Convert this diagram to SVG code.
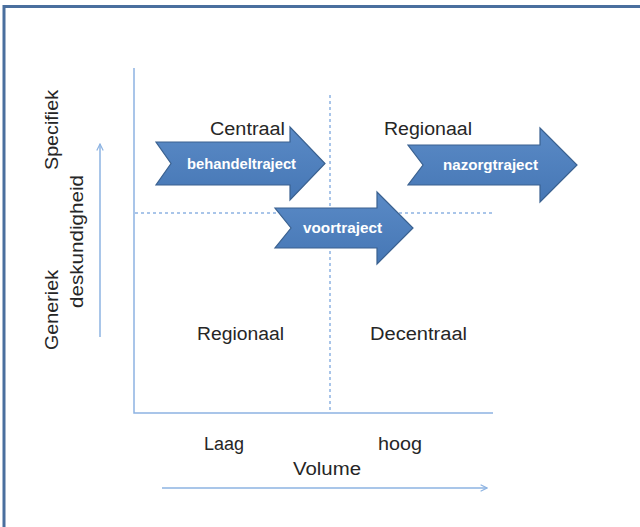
<svg xmlns="http://www.w3.org/2000/svg" width="640" height="527" viewBox="0 0 640 527">
  <style>
    .frame { fill: none; stroke: #4a6f9e; stroke-width: 3; }
    .axis { fill: none; stroke: #8db3e2; stroke-width: 1.5; }
    .guide { fill: none; stroke: #8db3e2; stroke-width: 1.5; stroke-dasharray: 3 3; }
    .lbl { font-family: "Liberation Sans", Arial, sans-serif; font-size: 18px; fill: #262626; }
    .shape { fill: url(#blockFill); stroke: #3a6190; stroke-width: 1.2; }
    .shapeText { font-family: "Liberation Sans", Arial, sans-serif; font-size: 14px; font-weight: bold; fill: #ffffff; }
  </style>
  <defs>
    <linearGradient id="blockFill" x1="0" y1="0" x2="0" y2="1">
      <stop offset="0" stop-color="#5a8ac6"/>
      <stop offset="1" stop-color="#4677b5"/>
    </linearGradient>
    <marker id="openHead" viewBox="0 0 10 10" refX="9" refY="5" markerWidth="8" markerHeight="8" markerUnits="userSpaceOnUse" orient="auto">
      <path d="M1,1 L9,5 L1,9" fill="none" stroke="#8db3e2" stroke-width="1.5"/>
    </marker>
  </defs>

  <rect width="640" height="527" fill="#ffffff"/>
  <!-- outer frame (top and left edges) -->
  <path class="frame" d="M4,527 L4,6.5 L640,6.5"/>

  <g id="connectors">
    <!-- axes -->
    <path class="axis" d="M134,68 L134,413 L493,413"/>
    <!-- quadrant guides -->
    <path class="guide" d="M330,95 L330,412"/>
    <path class="guide" d="M135,213 L493,213"/>
    <!-- direction arrows -->
    <path class="axis" d="M100,337 L100,144" marker-end="url(#openHead)"/>
    <path class="axis" d="M162,488 L487,488" marker-end="url(#openHead)"/>
  </g>

  <g id="axis-labels">
    <text class="lbl" transform="translate(58,170) rotate(-90)" textLength="80" lengthAdjust="spacingAndGlyphs">Specifiek</text>
    <text class="lbl" transform="translate(58,350) rotate(-90)" textLength="80" lengthAdjust="spacingAndGlyphs">Generiek</text>
    <text class="lbl" transform="translate(83,308) rotate(-90)" textLength="133" lengthAdjust="spacingAndGlyphs">deskundigheid</text>
    <text class="lbl" x="204" y="450" textLength="40" lengthAdjust="spacingAndGlyphs">Laag</text>
    <text class="lbl" x="378" y="450" textLength="44" lengthAdjust="spacingAndGlyphs">hoog</text>
    <text class="lbl" x="293" y="475" textLength="68" lengthAdjust="spacingAndGlyphs">Volume</text>
  </g>

  <g id="quadrant-labels">
    <text class="lbl" x="210" y="135" textLength="75" lengthAdjust="spacingAndGlyphs">Centraal</text>
    <text class="lbl" x="384" y="135" textLength="88" lengthAdjust="spacingAndGlyphs">Regionaal</text>
    <text class="lbl" x="197" y="340" textLength="87" lengthAdjust="spacingAndGlyphs">Regionaal</text>
    <text class="lbl" x="370" y="340" textLength="97" lengthAdjust="spacingAndGlyphs">Decentraal</text>
  </g>

  <g id="behandeltraject">
    <path class="shape" d="M156,142 L290,142 L290,127 L325,163.5 L290,200 L290,185 L156,185 L171,163.5 Z"/>
    <text class="shapeText" x="187" y="169" textLength="109" lengthAdjust="spacingAndGlyphs">behandeltraject</text>
  </g>

  <g id="voortraject">
    <path class="shape" d="M275,208 L377,208 L377,192 L413,228 L377,264 L377,248 L275,248 L291,228 Z"/>
    <text class="shapeText" x="303" y="233" textLength="79" lengthAdjust="spacingAndGlyphs">voortraject</text>
  </g>

  <g id="nazorgtraject">
    <path class="shape" d="M408,145 L540,145 L540,128 L577,165 L540,202 L540,185 L408,185 L423,165 Z"/>
    <text class="shapeText" x="443" y="170" textLength="95" lengthAdjust="spacingAndGlyphs">nazorgtraject</text>
  </g>
</svg>
